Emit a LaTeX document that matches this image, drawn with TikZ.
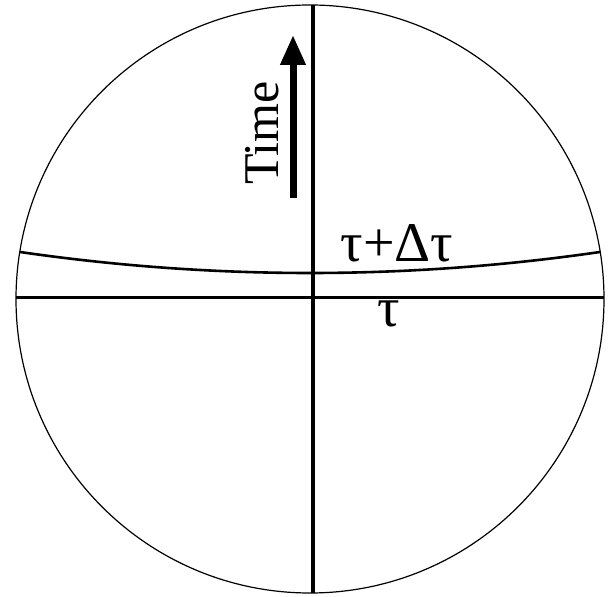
\documentclass[tikz,border=0pt]{standalone}
\usepackage{fontspec}
\setmainfont{Liberation Serif}
\usepackage{tikz}
\usetikzlibrary{arrows.meta}

\begin{document}
\begin{tikzpicture}[x=1pt,y=1pt,
      rim/.style={draw=black,line width=1.2pt},
      axis/.style={draw=black,line width=3.5pt},
      slice/.style={draw=black,line width=2.6pt},
      lbl/.style={font=\fontsize{50}{54}\selectfont,text=black,inner sep=0pt}]
      \useasboundingbox (0,0) rectangle (611,597);
      % the sphere
      \coordinate (c) at (310,298);
      \draw[rim] (c) circle (294);
      % time axis and equator
      \coordinate (top) at (313,592);
      \coordinate (bot) at (313,4);
      \coordinate (west) at (16,299);
      \coordinate (east) at (604,299);
      \draw[axis] (top) -- (bot);
      \draw[axis,line width=3pt] (west) -- (east);
      % next slice
      \coordinate (sw) at (20,345);
      \coordinate (se) at (600,345);
      \draw[slice] (sw) .. controls (213,317) and (407,317) .. (se);
      % arrow of time
      \coordinate (tail) at (293,399);
      \coordinate (head) at (293,562);
      \draw[line width=7pt,-{Triangle[length=30pt,width=24pt]}] (tail) -- (head);
      \node[lbl,rotate=90] (time) at (262,464) {Time};
      \node[lbl,anchor=base,font=\fontsize{56}{60}\selectfont] (later) at (397,335) {τ+Δτ};
      \node[lbl,font=\fontsize{56}{60}\selectfont] (now) at (389,283) {τ};
    \end{tikzpicture}
\end{document}
